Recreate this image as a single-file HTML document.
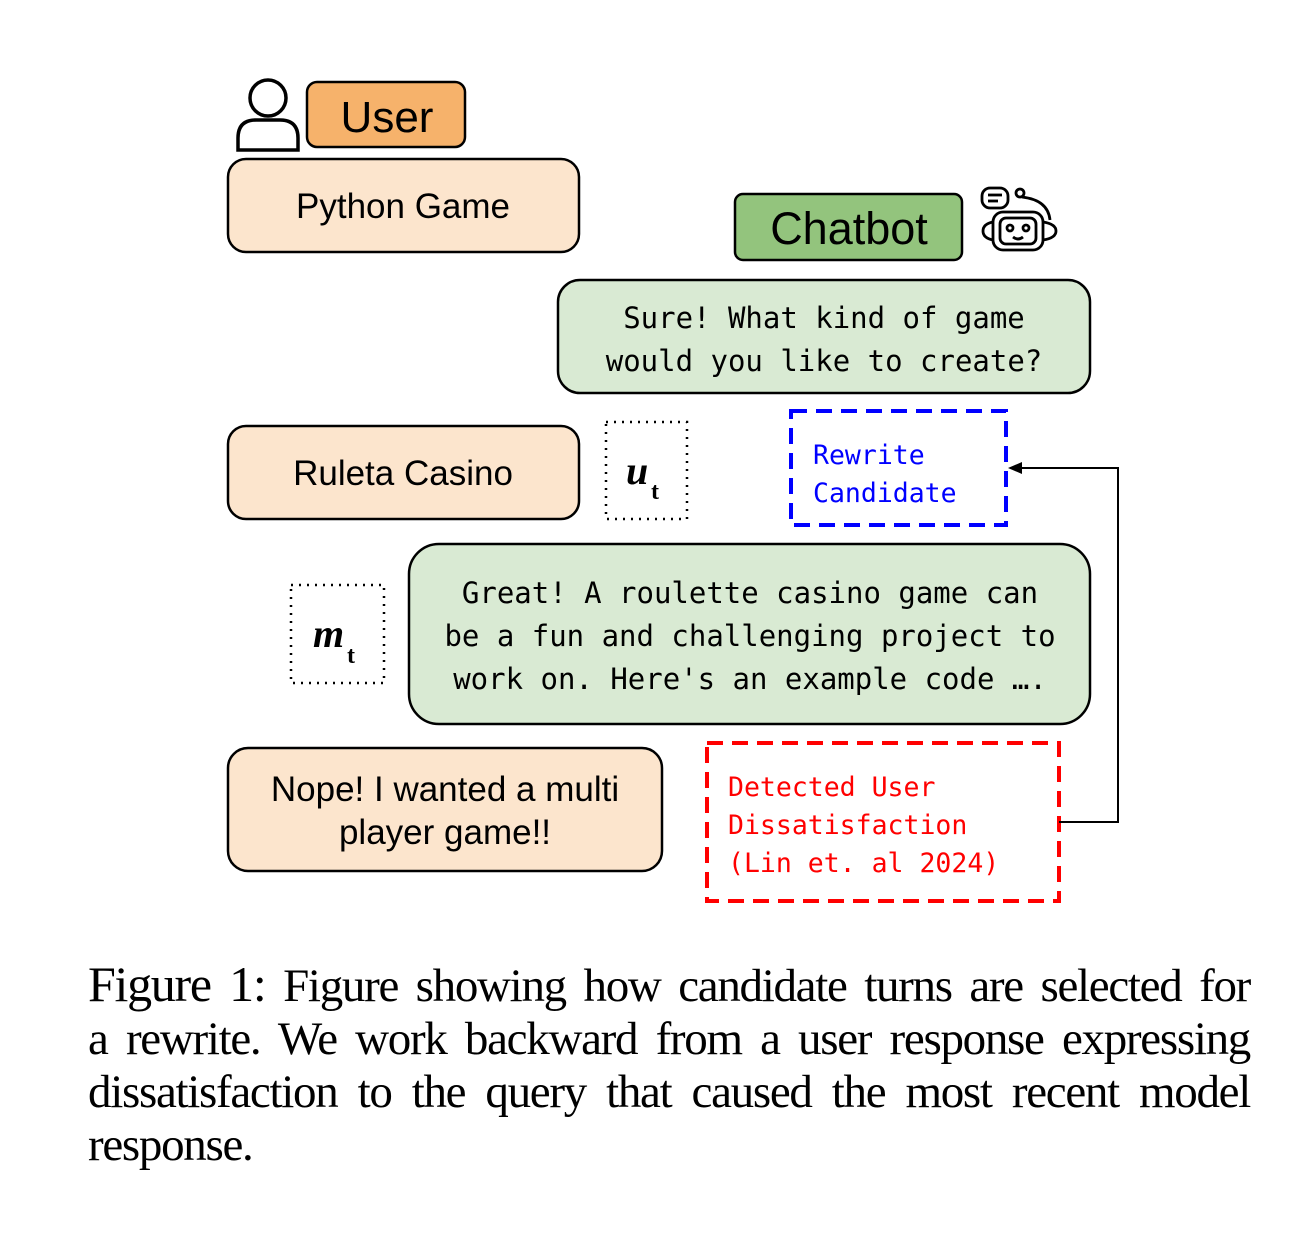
<!DOCTYPE html>
<html><head><meta charset="utf-8"><style>
body{margin:0;background:#fff}
svg{display:block}
.s{font-family:"Liberation Sans",sans-serif;fill:#000}
.m{font-family:"DejaVu Sans Mono","Liberation Mono",monospace}
.cap{position:absolute;left:88px;top:958px;width:1162px;font-family:"Liberation Serif",serif;font-size:47px;line-height:53px;color:#000;letter-spacing:-1.3px}
.cap div{text-align:justify;text-align-last:justify;white-space:nowrap}
.cap div.l{text-align-last:left}
</style></head><body>
<div style="position:relative;width:1294px;height:1242px">
<svg width="1294" height="1242" viewBox="0 0 1294 1242">
<g stroke="#000" stroke-width="2.5">
<rect x="307" y="82" width="158" height="65" rx="10" fill="#f6b26b"/>
<rect x="228" y="159" width="351" height="93" rx="18" fill="#fce5cd"/>
<rect x="735" y="194" width="227" height="66" rx="8" fill="#93c47d"/>
<rect x="558" y="280" width="532" height="113" rx="22" fill="#d9ead3"/>
<rect x="228" y="426" width="351" height="93" rx="18" fill="#fce5cd"/>
<rect x="409" y="544" width="681" height="180" rx="30" fill="#d9ead3"/>
<rect x="228" y="748" width="434" height="123" rx="20" fill="#fce5cd"/>
</g>
<rect x="606" y="422" width="81" height="97" fill="none" stroke="#000" stroke-width="2.5" stroke-dasharray="2,6"/>
<rect x="291" y="585" width="93" height="98" fill="none" stroke="#000" stroke-width="2.5" stroke-dasharray="2,6"/>
<rect x="791" y="411" width="215" height="114" fill="none" stroke="#0000ff" stroke-width="4" stroke-dasharray="16,9"/>
<rect x="707" y="743" width="352" height="158" fill="none" stroke="#ff0000" stroke-width="4" stroke-dasharray="16,9"/>
<polyline points="1059,822 1118,822 1118,468 1020,468" fill="none" stroke="#000" stroke-width="2"/>
<polygon points="1008,468 1022,462 1022,474" fill="#000"/>
<g fill="none" stroke="#000" stroke-width="3.5">
<circle cx="268" cy="98" r="18"/>
<path d="M238,150 V138 Q238,120 256,120 H280 Q298,120 298,138 V150 Z"/>
</g>
<g fill="none" stroke="#000" stroke-width="2.8">
<rect x="982" y="188" width="26" height="20" rx="8"/>
<line x1="988" y1="195" x2="1002" y2="195"/><line x1="988" y1="201" x2="998" y2="201"/>
<circle cx="1020" cy="193" r="4"/>
<path d="M1022,197 Q1048,200 1050,220"/>
<rect x="993" y="212" width="50" height="38" rx="10"/>
<rect x="1000" y="218" width="36" height="26" rx="6"/>
<circle cx="1010" cy="228" r="3"/><circle cx="1026" cy="228" r="3"/>
<path d="M1013,237 Q1018,241 1023,237"/>
<path d="M993,222 Q983,224 983,231 Q983,238 993,240"/>
<path d="M1043,222 Q1056,224 1056,231 Q1056,238 1043,240"/>
</g>
<text class="s" x="387" y="132" font-size="44" text-anchor="middle">User</text>
<text class="s" x="403" y="218" font-size="35" text-anchor="middle">Python Game</text>
<text class="s" x="849" y="244" font-size="45" text-anchor="middle">Chatbot</text>
<text class="s" x="403" y="485" font-size="35" text-anchor="middle">Ruleta Casino</text>
<text class="s" x="445" y="801" font-size="35" text-anchor="middle">Nope! I wanted a multi</text>
<text class="s" x="445" y="844" font-size="35" text-anchor="middle">player game!!</text>
<g class="m" font-size="29" text-anchor="middle">
<text x="824" y="328">Sure! What kind of game</text>
<text x="824" y="371">would you like to create?</text>
<text x="750" y="603">Great! A roulette casino game can</text>
<text x="750" y="646">be a fun and challenging project to</text>
<text x="750" y="689">work on. Here's an example code ….</text>
</g>
<g class="m" font-size="26.5" fill="#0000ff">
<text x="813" y="464">Rewrite</text>
<text x="813" y="502">Candidate</text>
</g>
<g class="m" font-size="26.5" fill="#ff0000">
<text x="728" y="796">Detected User</text>
<text x="728" y="834">Dissatisfaction</text>
<text x="728" y="872">(Lin et. al 2024)</text>
</g>
<g font-family="Liberation Serif,serif" font-weight="bold">
<text x="626" y="484" font-size="40" font-style="italic">u</text>
<text x="651" y="499" font-size="24">t</text>
<text x="313" y="647" font-size="40" font-style="italic">m</text>
<text x="347" y="663" font-size="24">t</text>
</g>
</svg>
<div class="cap">
<div><span style="font-size:50px">Figure 1:</span> Figure showing how candidate turns are selected for</div>
<div>a rewrite. We work backward from a user response expressing</div>
<div>dissatisfaction to the query that caused the most recent model</div>
<div class="l">response.</div>
</div>
</div>
</body></html>
